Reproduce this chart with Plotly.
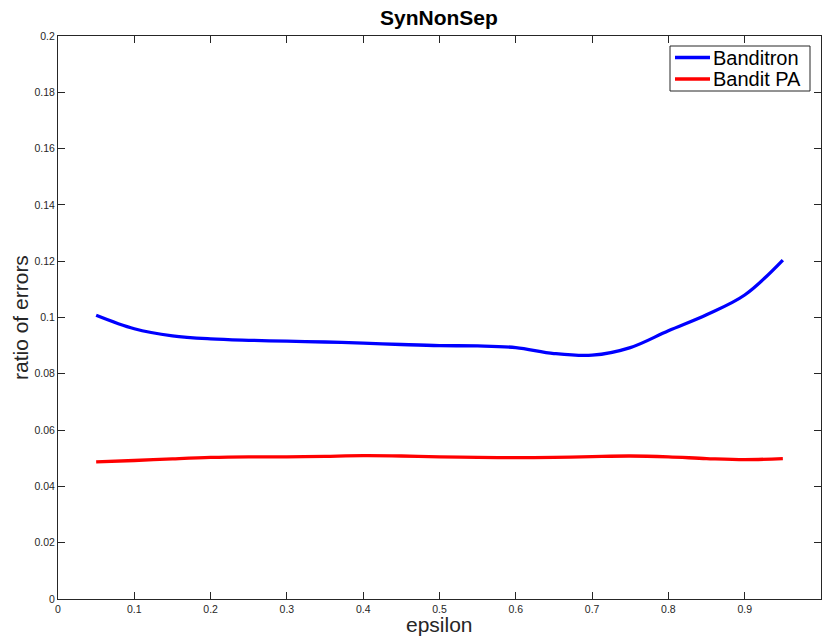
import plotly.graph_objects as go

epsilon = [0.05, 0.10, 0.15, 0.20, 0.25, 0.30, 0.35, 0.40, 0.45, 0.50,
           0.55, 0.60, 0.65, 0.70, 0.75, 0.80, 0.85, 0.90, 0.95]
banditron = [0.1008, 0.0960, 0.0935, 0.0924, 0.0919, 0.0916, 0.0913, 0.0909, 0.0904, 0.0900,
             0.0899, 0.0893, 0.0872, 0.0866, 0.0893, 0.0953, 0.1010, 0.1080, 0.1204]
bandit_pa = [0.0487, 0.0492, 0.0498, 0.0503, 0.0505, 0.0505, 0.0507, 0.0509, 0.0508, 0.0505,
             0.0503, 0.0502, 0.0503, 0.0506, 0.0508, 0.0505, 0.0499, 0.0495, 0.0499]
series_names = ["Banditron", "Bandit PA"]
series_colors = ["#0000ff", "#ff0000"]

x_ticks = [0, 0.1, 0.2, 0.3, 0.4, 0.5, 0.6, 0.7, 0.8, 0.9, 1]
x_tick_labels = ["0", "0.1", "0.2", "0.3", "0.4", "0.5", "0.6", "0.7", "0.8", "0.9", "1"]
y_ticks = [0, 0.02, 0.04, 0.06, 0.08, 0.1, 0.12, 0.14, 0.16, 0.18, 0.2]
y_tick_labels = ["0", "0.02", "0.04", "0.06", "0.08", "0.1", "0.12", "0.14", "0.16", "0.18", "0.2"]

FONT = "Liberation Sans, Arial, Helvetica"
W, H = 824, 636
L, R, T, B = 58, 3, 36, 37
PW, PH = W - L - R, H - T - B

fig = go.Figure()
for name, vals, col in zip(series_names, [banditron, bandit_pa], series_colors):
    fig.add_trace(go.Scatter(x=epsilon, y=vals, mode="lines", name=name, showlegend=False,
                             hoverinfo="skip",
                             line=dict(color=col, width=3.3, shape="spline", smoothing=1.0)))

axis_common = dict(showgrid=False, zeroline=False, showline=True, linecolor="#262626",
                   linewidth=1, mirror="ticks", ticks="inside", ticklen=7, tickwidth=1,
                   tickcolor="#262626", automargin=False,
                   tickfont=dict(family=FONT, size=10.5, color="#262626"))

def px_x(px):
    return (px - L) / PW

def px_y(py):
    return (H - B - py) / PH

annotations = [
    dict(text="<b>SynNonSep</b>", xref="paper", yref="paper", x=px_x(439), y=px_y(18),
         xanchor="center", yanchor="middle", showarrow=False,
         font=dict(family=FONT, size=21, color="black")),
    dict(text="epsilon", xref="paper", yref="paper", x=px_x(439), y=px_y(624),
         xanchor="center", yanchor="middle", showarrow=False,
         font=dict(family=FONT, size=21, color="#262626")),
    dict(text="ratio of errors", xref="paper", yref="paper", x=px_x(20), y=px_y(318),
         xanchor="center", yanchor="middle", showarrow=False, textangle=-90,
         font=dict(family=FONT, size=21, color="#262626")),
]
shapes = [
    dict(type="rect", xref="paper", yref="paper", x0=px_x(670), x1=px_x(810),
         y0=px_y(91), y1=px_y(46), line=dict(color="#262626", width=1), fillcolor="white",
         layer="above"),
]
row_y = [57.5, 79.0]
for name, col, ry in zip(series_names, series_colors, row_y):
    shapes.append(dict(type="line", xref="paper", yref="paper", x0=px_x(675), x1=px_x(710),
                       y0=px_y(ry), y1=px_y(ry), line=dict(color=col, width=3.3), layer="above"))
    annotations.append(dict(text=name, xref="paper", yref="paper", x=px_x(712), y=px_y(ry),
                            xanchor="left", yanchor="middle", showarrow=False, borderpad=0,
                            font=dict(family=FONT, size=20, color="black")))

fig.update_layout(
    width=W, height=H,
    margin=dict(l=L, r=R, t=T, b=B, autoexpand=False),
    paper_bgcolor="white", plot_bgcolor="white",
    xaxis=dict(range=[0, 1], tickvals=x_ticks, ticktext=x_tick_labels, **axis_common),
    yaxis=dict(range=[0, 0.2], tickvals=y_ticks, ticktext=y_tick_labels, **axis_common),
    annotations=annotations,
    shapes=shapes,
    showlegend=False,
    hovermode=False,
)

fig.write_html("out.html", config={"displayModeBar": False, "staticPlot": True},
               post_script="document.body.style.margin='0';document.body.style.overflow='hidden';")
